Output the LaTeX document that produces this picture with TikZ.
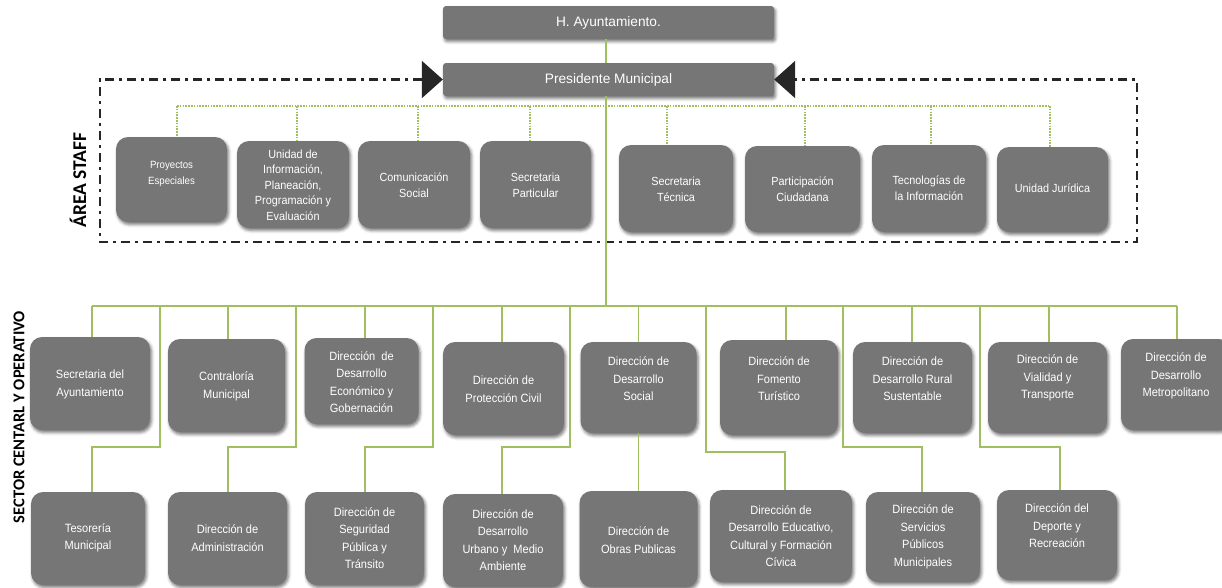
\documentclass[tikz,border=0pt]{standalone}
\usepackage{fontspec}
\setmainfont{Liberation Sans}
\newfontfamily\boxfont[FakeStretch=0.92]{Liberation Sans}
\newfontfamily\labfont{Carlito}
\usetikzlibrary{arrows.meta,shadows.blur,calc}
\definecolor{boxgray}{RGB}{118,118,118}
\definecolor{linegreen}{RGB}{160,192,96}
\definecolor{dashcol}{RGB}{38,38,38}
\tikzset{
  orgbox/.style={fill=boxgray, rounded corners=12pt, inner sep=0pt,
    blur shadow={shadow xshift=1.5pt, shadow yshift=-2.5pt, shadow blur radius=3pt, shadow opacity=55}},
  topbox/.style={fill=boxgray, rounded corners=3pt, inner sep=0pt, text=white,
    font=\fontsize{13.7}{16}\selectfont,
    blur shadow={shadow xshift=1.5pt, shadow yshift=-2.5pt, shadow blur radius=3pt, shadow opacity=55}},
  boxtext/.style={text=white, align=center, inner sep=0pt, font=\boxfont\fontsize{12}{17.5}\selectfont},
  stafftext/.style={boxtext, font=\boxfont\fontsize{11.8}{15.6}\selectfont},
  smalltext/.style={boxtext, font=\boxfont\fontsize{10.5}{16}\selectfont},
  sline/.style={draw=linegreen, line width=1.5pt},
  dline/.style={draw=linegreen, line width=1.3pt, dash pattern=on 1.6pt off 1.2pt},
  dashframe/.style={draw=dashcol, line width=2.2pt, dash pattern=on 9pt off 5pt on 3pt off 5pt},
  sidelabel/.style={rotate=90, inner sep=0pt, text=black}
}
\newcommand\orgunit[8][boxtext]{%
  \node[orgbox, minimum width=#5pt, minimum height=#6pt] (#2) at (#3,#4) {};
  \node[#1] (#2t) at (#3,#7) {#8};}
\begin{document}
\begin{tikzpicture}[x=1pt, y=-1pt]
\useasboundingbox (0,0) rectangle (1222,587);
\clip (0,0) rectangle (1222,587);

% top boxes
\node[topbox, minimum width=331pt, minimum height=33pt] (ayto) at (608.5,22.5) {H. Ayuntamiento.};
\node[topbox, minimum width=331pt, minimum height=33pt] (pres) at (608.5,79.5) {Presidente Municipal};

% side labels
\node[sidelabel, font=\labfont\bfseries\fontsize{19.5}{20}\selectfont] (areastaff) at (78,180) {ÁREA STAFF};
\node[sidelabel, font=\labfont\bfseries\fontsize{16.5}{18}\selectfont] (sector) at (19,417) {SECTOR CENTARL Y OPERATIVO};

% staff boxes
\orgunit[smalltext]{s1}{171.5}{179.5}{111}{85}{174}{Proyectos\\Especiales}
\orgunit[stafftext]{s2}{293}{184.5}{112}{87}{185}{Unidad de\\Información,\\Planeación,\\Programación y\\Evaluación}
\orgunit[stafftext]{s3}{414}{184.5}{112}{87}{185.5}{Comunicación\\Social}
\orgunit[stafftext]{s4}{535.5}{184.5}{111}{87}{185}{Secretaria\\Particular}
\orgunit[stafftext]{s5}{676}{188.5}{114}{87}{189}{Secretaria\\Técnica}
\orgunit[stafftext]{s6}{802.5}{189}{115}{86}{189}{Participación\\Ciudadana}
\orgunit[stafftext]{s7}{929}{188.5}{114}{87}{188.5}{Tecnologías de\\la Información}
\orgunit[stafftext]{s8}{1052.5}{189.5}{111}{85}{188}{Unidad Jurídica}

% sector row 1
\orgunit{r1}{90}{383.5}{120}{93}{384.5}{Secretaria del\\Ayuntamiento}
\orgunit{r2}{226.5}{385.5}{117}{93}{386.5}{Contraloría\\Municipal}
\orgunit{r3}{361.5}{381}{114}{86}{382}{Dirección~ de\\Desarrollo\\Económico y\\Gobernación}
\orgunit{r4}{503.5}{388.5}{121}{93}{389}{Dirección de\\Protección Civil}
\orgunit{r5}{638.5}{387.5}{116}{91}{379}{Dirección de\\Desarrollo\\Social}
\orgunit{r6}{779}{387.5}{118}{95}{379}{Dirección de\\Fomento\\Turístico}
\orgunit{r7}{912.5}{387.5}{119}{91}{379}{Dirección de\\Desarrollo Rural\\Sustentable}
\orgunit{r8}{1047.5}{387.5}{119}{91}{378}{Dirección de\\Vialidad y\\Transporte}
\orgunit{r9}{1176}{384.5}{110}{91}{376}{Dirección de\\Desarrollo\\Metropolitano}

% sector row 2
\orgunit{t1}{88}{538.5}{114}{93}{538}{Tesorería\\Municipal}
\orgunit{t2}{227.5}{538.5}{119}{93}{538}{Dirección de\\Administración}
\orgunit{t3}{364.5}{538.5}{119}{93}{538}{Dirección de\\Seguridad\\Pública y\\Tránsito}
\orgunit{t4}{503}{540.5}{120}{93}{540}{Dirección de\\Desarrollo\\Urbano y~ Medio\\Ambiente}
\orgunit{t5}{638.5}{539}{118}{96}{540}{Dirección de\\Obras Publicas}
\orgunit{t6}{781}{536}{142}{92}{536}{Dirección de\\Desarrollo Educativo,\\Cultural y Formación\\Cívica}
\orgunit{t7}{923}{537}{114}{90}{537}{Dirección de\\Servicios\\Públicos\\Municipales}
\orgunit{t8}{1057}{535}{120}{90}{526}{Dirección del\\Deporte y\\Recreación}

% dash-dot staff frame with arrow heads into the president box
\coordinate (fTL) at (100,79.5);
\coordinate (fBL) at (100,242);
\coordinate (fBR) at (1137,242);
\coordinate (fTR) at (1137,79.5);
\draw[dashframe, {Triangle[length=21pt,width=37pt]}-{Triangle[length=21pt,width=37pt]}]
  (pres.west) -- (fTL) -- (fBL) -- (fBR) -- (fTR) -- (pres.east);

% main spine
\coordinate (mx) at (606,0);
\coordinate (bmid) at (606,306);
\draw[sline] (mx |- ayto.south) -- (mx |- pres.north);
\draw[sline] (mx |- pres.south) -- (bmid);

% staff bus (dotted)
\coordinate (a1) at (177,106);
\coordinate (a2) at (297,106);
\coordinate (a3) at (418,106);
\coordinate (a4) at (530,106);
\coordinate (a5) at (667,106);
\coordinate (a6) at (805,106);
\coordinate (a7) at (931,106);
\coordinate (a8) at (1050,106);
\draw[dline] (a1) -- (a8);
\foreach \i in {1,...,8} { \draw[dline] (a\i) -- (a\i |- s\i.north); }

% sector bus
\coordinate (b1) at (92,306);
\coordinate (b2) at (160,306);
\coordinate (b3) at (228,306);
\coordinate (b4) at (296,306);
\coordinate (b5) at (365,306);
\coordinate (b6) at (433,306);
\coordinate (b7) at (502,306);
\coordinate (b8) at (570,306);
\coordinate (b9) at (638.5,306);
\coordinate (b10) at (706,306);
\coordinate (b11) at (786,306);
\coordinate (b12) at (843,306);
\coordinate (b13) at (912,306);
\coordinate (b14) at (980,306);
\coordinate (b15) at (1049,306);
\coordinate (b16) at (1177,306);
\draw[sline] (b1) -- (b16);

% to first row
\draw[sline] (b1) -- (b1 |- r1.north);
\draw[sline] (b3) -- (b3 |- r2.north);
\draw[sline] (b5) -- (b5 |- r3.north);
\draw[sline] (b7) -- (b7 |- r4.north);
\draw[sline] (b9) -- (b9 |- r5.north);
\draw[sline] (b11) -- (b11 |- r6.north);
\draw[sline] (b13) -- (b13 |- r7.north);
\draw[sline] (b15) -- (b15 |- r8.north);
\draw[sline] (b16) -- (b16 |- r9.north);

% to second row (with jogs)
\coordinate (k1) at (160,447);  \coordinate (m1) at (92,447);
\coordinate (k2) at (296,447);  \coordinate (m2) at (228,447);
\coordinate (k3) at (433,447);  \coordinate (m3) at (365,447);
\coordinate (k4) at (570,447);  \coordinate (m4) at (502,447);
\coordinate (k6) at (706,452);  \coordinate (m6) at (785,452);
\coordinate (k7) at (843,447);  \coordinate (m7) at (922,447);
\coordinate (k8) at (980,447);  \coordinate (m8) at (1060,447);
\draw[sline] (b2) -- (k1) -- (m1) -- (m1 |- t1.north);
\draw[sline] (b4) -- (k2) -- (m2) -- (m2 |- t2.north);
\draw[sline] (b6) -- (k3) -- (m3) -- (m3 |- t3.north);
\draw[sline] (b8) -- (k4) -- (m4) -- (m4 |- t4.north);
\draw[sline] (r5.south) -- (t5.north);
\draw[sline] (b10) -- (k6) -- (m6) -- (m6 |- t6.north);
\draw[sline] (b12) -- (k7) -- (m7) -- (m7 |- t7.north);
\draw[sline] (b14) -- (k8) -- (m8) -- (m8 |- t8.north);
\end{tikzpicture}
\end{document}
